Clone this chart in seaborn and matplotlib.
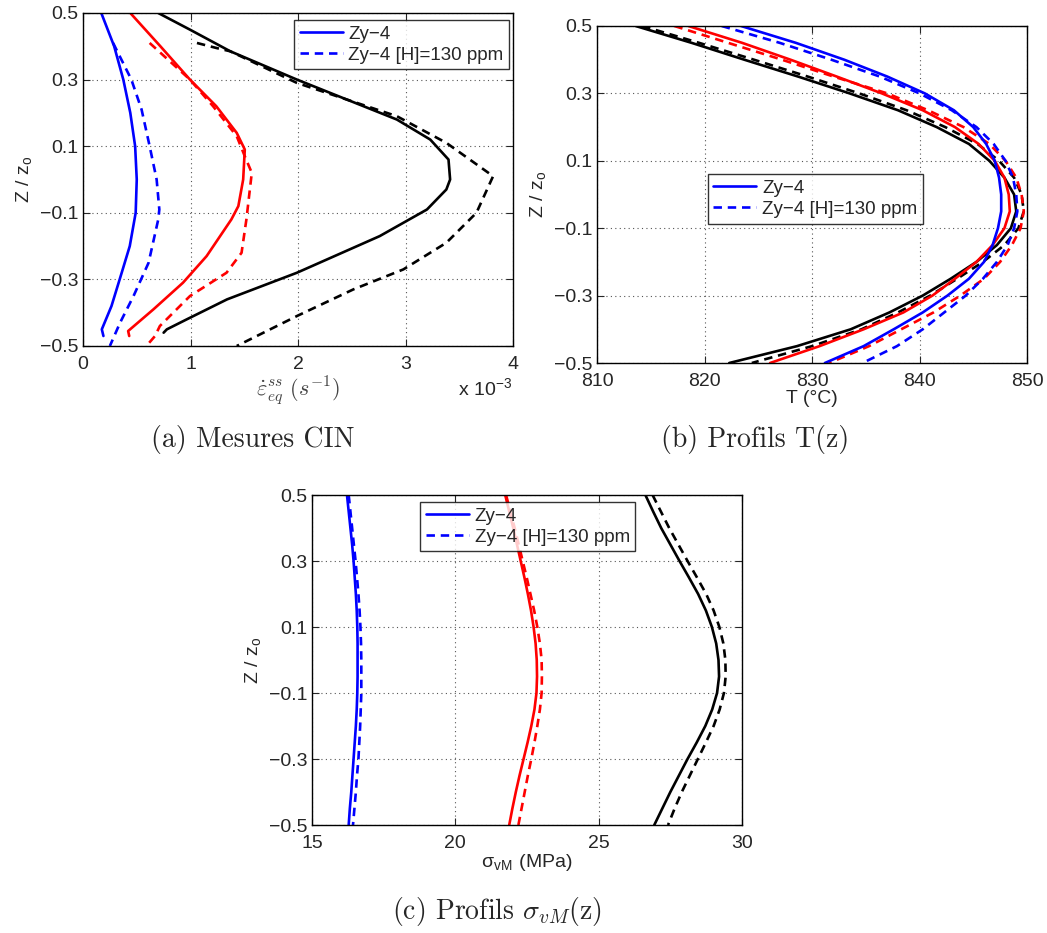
import numpy as np
import pandas as pd
import matplotlib
matplotlib.use("Agg")
import matplotlib.pyplot as plt
import seaborn as sns

sns.set_style("ticks")
plt.rcParams['font.family'] = ['Liberation Sans', 'DejaVu Sans']
plt.rcParams['mathtext.fontset'] = 'cm'

# (a) strain rate profiles measured by DIC (x 1e-3 s^-1)
z_a_blue = [0.5, 0.45, 0.4, 0.3, 0.2, 0.1, 0.0, -0.1, -0.2, -0.28, -0.38, -0.45, -0.47]
a_blue = [0.17, 0.23, 0.29, 0.375, 0.44, 0.485, 0.50, 0.49, 0.435, 0.36, 0.265, 0.175, 0.19]
z_a_blue_h = [0.41, 0.3, 0.21, 0.1, 0.0, -0.09, -0.12, -0.25, -0.35, -0.43, -0.5]
a_blue_h = [0.28, 0.45, 0.545, 0.62, 0.685, 0.71, 0.70, 0.61, 0.47, 0.345, 0.25]
z_a_red = [0.5, 0.4, 0.3, 0.22, 0.14, 0.09, 0.0, -0.08, -0.12, -0.23, -0.31, -0.39, -0.455, -0.47]
a_red = [0.44, 0.72, 0.995, 1.24, 1.43, 1.505, 1.49, 1.445, 1.38, 1.15, 0.93, 0.655, 0.42, 0.43]
z_a_red_h = [0.41, 0.3, 0.22, 0.13, 0.07, 0.02, -0.12, -0.22, -0.28, -0.35, -0.44, -0.47, -0.5]
a_red_h = [0.62, 0.995, 1.21, 1.43, 1.505, 1.57, 1.52, 1.475, 1.335, 0.995, 0.715, 0.67, 0.59]
z_a_black = [0.5, 0.45, 0.385, 0.3, 0.18, 0.12, 0.06, 0.0, -0.03, -0.09, -0.17, -0.28, -0.36,
             -0.42, -0.45, -0.46]
a_black = [0.70, 0.995, 1.37, 1.99, 2.92, 3.23, 3.40, 3.415, 3.38, 3.20, 2.76, 1.99, 1.34,
           0.965, 0.78, 0.75]
z_a_black_h = [0.41, 0.395, 0.385, 0.29, 0.19, 0.11, 0.01, -0.1, -0.19, -0.27, -0.33, -0.41, -0.5]
a_black_h = [1.06, 1.24, 1.37, 1.99, 2.92, 3.38, 3.815, 3.66, 3.38, 2.98, 2.515, 1.99, 1.43]

# common height grid for (b) and (c)
z_prof = [0.5, 0.45, 0.4, 0.35, 0.3, 0.25, 0.2, 0.15, 0.1, 0.05, 0.0, -0.05, -0.1, -0.15,
          -0.2, -0.25, -0.3, -0.35, -0.4, -0.45, -0.5]

# (b) temperature profiles (degC)
b_black = [813.6, 818.8, 823.7, 828.7, 833.5, 838.0, 841.6, 844.6, 846.5, 847.9, 848.8,
           849.0, 848.5, 847.2, 845.3, 842.9, 840.3, 837.2, 833.6, 828.6, 822.3]
b_black_h = [814.2, 819.5, 824.6, 829.6, 834.4, 838.8, 842.4, 845.4, 847.4, 848.8, 849.5,
             849.7, 849.2, 847.9, 845.9, 843.5, 841.0, 838.0, 834.6, 830.0, 824.4]
b_red = [818.5, 823.5, 828.0, 832.3, 836.5, 840.3, 843.3, 845.5, 847.0, 847.9, 848.3,
         848.4, 847.9, 846.8, 845.3, 843.3, 841.2, 838.5, 834.8, 830.7, 826.1]
b_red_h = [817.2, 822.2, 827.2, 832.0, 837.0, 840.8, 844.1, 846.5, 848.0, 849.0, 849.5,
           849.7, 849.4, 848.6, 847.5, 846.0, 843.8, 841.3, 838.3, 835.3, 831.6]
b_blue = [823.4, 828.5, 833.0, 837.0, 840.5, 843.2, 845.0, 846.2, 847.0, 847.4, 847.6,
          847.6, 847.3, 846.8, 846.0, 844.6, 842.6, 840.3, 837.6, 834.8, 831.2]
b_blue_h = [821.6, 827.0, 831.8, 836.3, 840.0, 843.0, 845.3, 846.9, 848.0, 848.7, 849.0,
            849.1, 848.8, 848.2, 847.2, 845.9, 844.3, 842.3, 840.3, 837.9, 834.7]

# (c) von Mises stress profiles (MPa)
c_blue = [16.22, 16.28, 16.34, 16.40, 16.45, 16.49, 16.53, 16.56, 16.58, 16.59, 16.59,
          16.59, 16.58, 16.56, 16.53, 16.49, 16.45, 16.41, 16.37, 16.32, 16.28]
c_blue_h = [16.28, 16.34, 16.40, 16.46, 16.52, 16.57, 16.62, 16.66, 16.69, 16.71, 16.72,
            16.72, 16.72, 16.70, 16.68, 16.65, 16.62, 16.57, 16.53, 16.48, 16.43]
c_red = [21.74, 21.88, 22.02, 22.15, 22.28, 22.41, 22.53, 22.64, 22.73, 22.80, 22.84,
         22.85, 22.83, 22.76, 22.65, 22.52, 22.38, 22.24, 22.11, 21.99, 21.88]
c_red_h = [21.77, 21.92, 22.07, 22.21, 22.35, 22.49, 22.62, 22.75, 22.86, 22.95, 23.01,
           23.02, 23.01, 22.95, 22.86, 22.76, 22.65, 22.53, 22.42, 22.31, 22.20]
c_black = [26.63, 26.90, 27.18, 27.50, 27.82, 28.15, 28.47, 28.74, 28.95, 29.10, 29.18,
           29.20, 29.13, 28.96, 28.72, 28.42, 28.10, 27.80, 27.50, 27.22, 26.94]
c_black_h = [26.88, 27.17, 27.46, 27.78, 28.10, 28.43, 28.75, 29.01, 29.21, 29.35, 29.42,
             29.43, 29.37, 29.22, 29.01, 28.74, 28.46, 28.18, 27.90, 27.65, 27.42]

yticks = [-0.5, -0.3, -0.1, 0.1, 0.3, 0.5]
ytick_labels = ['\u22120.5', '\u22120.3', '\u22120.1', '0.1', '0.3', '0.5']
labels = ['Zy\u22124', 'Zy\u22124 [H]=130 ppm']
DASH = (3.2, 2.2)
LW = 1.9
FS = 14

W, H = 1047, 933
fig = plt.figure(figsize=(W / 100, H / 100), dpi=100)


def px_axes(x0, y0, x1, y1):
    return fig.add_axes([x0 / W, 1 - y1 / H, (x1 - x0) / W, (y1 - y0) / H])


def draw(ax, series):
    handles = []
    for xs, zs, col, dashed in series:
        df = pd.DataFrame({'x': xs, 'z': zs})
        sns.lineplot(data=df, x='x', y='z', sort=False, estimator=None,
                     color=col, lw=LW, ax=ax)
        line = ax.lines[-1]
        if dashed:
            line.set_dashes(DASH)
        if col == 'blue':
            handles.append(line)
    handles.sort(key=lambda l: l.get_linestyle() != '-')
    return handles


def style(ax, xlim, xticks):
    ax.set_xlim(*xlim)
    ax.set_ylim(-0.5, 0.5)
    ax.set_xticks(xticks)
    ax.set_yticks(yticks)
    ax.set_yticklabels(ytick_labels)
    ax.grid(True, ls=(0, (1, 3)), color='#555555', lw=0.8)
    ax.tick_params(direction='in', top=True, right=True, labelsize=FS,
                   length=5, width=0.8, pad=3)
    ax.tick_params(axis='x', pad=7)
    for s in ax.spines.values():
        s.set_linewidth(1.0)
        s.set_color('black')
    ax.set_ylabel('Z / z$_\\mathregular{o}$', fontsize=FS, labelpad=4)


def legend(ax, handles, **kw):
    lg = ax.legend(handles, labels, fontsize=13.5, frameon=True, fancybox=False,
                   edgecolor='black', handlelength=2.3, handletextpad=0.3,
                   borderpad=0.3, labelspacing=0.2, borderaxespad=0, **kw)
    lg.get_frame().set_linewidth(1.0)


# panel (a)
ax_a = px_axes(83, 13, 513, 346)
h = draw(ax_a, [
    (a_blue, z_a_blue, 'blue', False), (a_blue_h, z_a_blue_h, 'blue', True),
    (a_red, z_a_red, 'red', False), (a_red_h, z_a_red_h, 'red', True),
    (a_black, z_a_black, 'black', False), (a_black_h, z_a_black_h, 'black', True),
])
style(ax_a, (0, 4), [0, 1, 2, 3, 4])
ax_a.set_xlabel(r'$\dot{\varepsilon}^{ss}_{eq}\ (s^{-1})$', fontsize=16,
                color='#444444', labelpad=1)
ax_a.text(1.0, -0.13, 'x 10$^{\\mathregular{-3}}$', transform=ax_a.transAxes,
          ha='right', va='center', fontsize=FS)
legend(ax_a, h, loc='upper right', bbox_to_anchor=(0.991, 0.979))

# panel (b)
ax_b = px_axes(597, 26, 1027, 363)
h = draw(ax_b, [
    (b_black, z_prof, 'black', False), (b_black_h, z_prof, 'black', True),
    (b_red, z_prof, 'red', False), (b_red_h, z_prof, 'red', True),
    (b_blue, z_prof, 'blue', False), (b_blue_h, z_prof, 'blue', True),
])
style(ax_b, (810, 850), [810, 820, 830, 840, 850])
ax_b.set_xlabel('T (\u00b0C)', fontsize=FS, labelpad=0)
legend(ax_b, h, loc='center left', bbox_to_anchor=(0.257, 0.487))

# panel (c)
ax_c = px_axes(312, 495, 742, 825)
h = draw(ax_c, [
    (c_blue, z_prof, 'blue', False), (c_blue_h, z_prof, 'blue', True),
    (c_red, z_prof, 'red', False), (c_red_h, z_prof, 'red', True),
    (c_black, z_prof, 'black', False), (c_black_h, z_prof, 'black', True),
])
style(ax_c, (15, 30), [15, 20, 25, 30])
ax_c.set_xlabel('\u03c3$_\\mathregular{vM}$ (MPa)', fontsize=FS, labelpad=0)
legend(ax_c, h, loc='upper center', bbox_to_anchor=(0.502, 0.979))

cap = dict(fontsize=20, family='cmr10', ha='center', va='center')
fig.text(253 / W, 1 - 440 / H, '(a) Mesures CIN', **cap)
fig.text(755 / W, 1 - 440 / H, '(b) Profils T(z)', **cap)
fig.text(497 / W, 1 - 912 / H, r'(c) Profils $\sigma_{vM}$(z)', **cap)

fig.savefig('out.png', dpi=100)
